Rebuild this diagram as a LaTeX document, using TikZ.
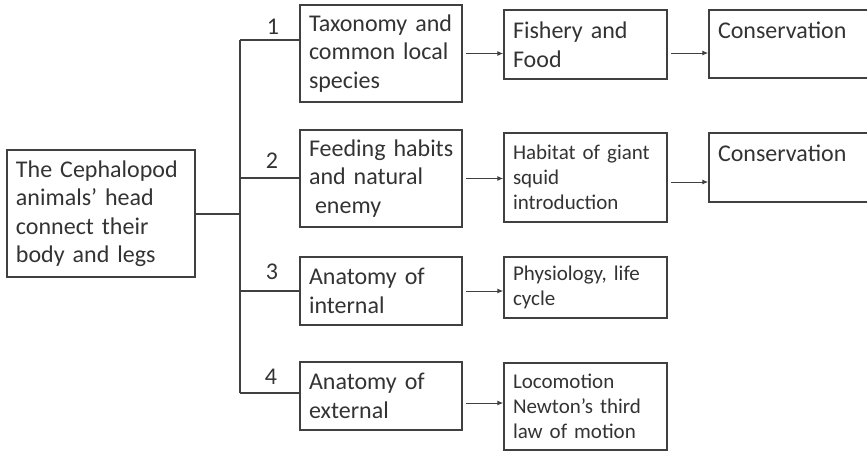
\documentclass[tikz,border=0pt]{standalone}
\usepackage{fontspec}
\setmainfont{Carlito}
\usetikzlibrary{arrows.meta,calc}
\definecolor{ink}{HTML}{333333}
\definecolor{rule}{HTML}{404040}
\newcommand{\tightspace}{\fontdimen2\font=0.23em\fontdimen3\font=0pt\fontdimen4\font=0pt}
\begin{document}
\begin{tikzpicture}[x=1pt,y=-1pt,
  box/.style={draw=rule,line width=1.5pt,rectangle,anchor=center,
    inner xsep=9pt,inner ysep=0pt,align=left,text=ink,
    font=\fontsize{24}{28.5}\selectfont\tightspace},
  smallbox/.style={box,font=\fontsize{21}{25}\selectfont\tightspace},
  num/.style={text=ink,font=\fontsize{24}{28}\selectfont,inner sep=0pt},
  trunk/.style={draw=rule,line width=2pt},
  link/.style={draw=rule,line width=1pt,shorten <=3pt,
    -{Latex[length=6pt,width=5pt]}}]
  \useasboundingbox (0,0) rectangle (867,451);
  \clip (0,0) rectangle (867,451);

  % root topic
  \node[box,text width=170pt,minimum width=188pt,minimum height=127pt]
    (root) at (101,213.5) {The Cephalopod\\animals’ head\\connect their\\body and legs};

  % first-level topics
  \node[box,text width=144pt,minimum width=162pt,minimum height=97pt]
    (b1) at (381,53.5) {Taxonomy and\\common local\\species};
  \node[box,text width=144pt,minimum width=162pt,minimum height=97pt]
    (b2) at (381,178.5) {\mbox{Feeding habits}\\and natural\\\hspace*{6pt}enemy};
  \node[box,text width=144pt,minimum width=162pt,minimum height=68pt]
    (b3) at (381,291) {Anatomy of\\internal};
  \node[box,text width=144pt,minimum width=162pt,minimum height=68pt]
    (b4) at (381,396) {Anatomy of\\external};

  % second-level topics
  \node[box,text width=145pt,minimum width=163pt,minimum height=69pt]
    (c1) at (585.5,44.5) {Fishery and\\Food};
  \node[smallbox,text width=145pt,minimum width=163pt,minimum height=89pt]
    (c2) at (585.5,177.5) {Habitat of giant\\squid\\introduction};
  \node[smallbox,text width=145pt,minimum width=163pt,minimum height=61pt]
    (c3) at (585.5,287.5) {Physiology, life\\cycle};
  \node[smallbox,text width=145pt,minimum width=163pt,minimum height=87pt]
    (c4) at (585.5,406.5) {Locomotion\\Newton's third\\law of motion};

  % third-level topics (running off the right edge)
  \node[box,text width=162pt,minimum width=180pt,minimum height=68pt]
    (d1) at (799,44) {Conservation\\\mbox{}};
  \node[box,text width=162pt,minimum width=180pt,minimum height=69pt]
    (d2) at (799,167.5) {Conservation\\\mbox{}};

  % branch numbers
  \node[num] (n1) at (273,27) {1};
  \node[num] (n2) at (272,161) {2};
  \node[num] (n3) at (272,272) {3};
  \node[num] (n4) at (271,377) {4};

  % bracket joining the root to the four topics
  \coordinate (j1) at (240,40);
  \coordinate (j2) at (240,178);
  \coordinate (j3) at (240,291);
  \coordinate (j4) at (240,393);
  \draw[trunk] (j1) -- (j4);
  \draw[trunk] (root.east) -- (root.east -| j1);
  \draw[trunk] (j1) -- (j1 -| b1.west);
  \draw[trunk] (j2) -- (j2 -| b2.west);
  \draw[trunk] (j3) -- (j3 -| b3.west);
  \draw[trunk] (j4) -- (j4 -| b4.west);

  % arrows between levels
  \draw[link] (b1.east) -- (b1.east -| c1.west);
  \draw[link] (b2.east) -- (b2.east -| c2.west);
  \draw[link] (b3.east) -- (b3.east -| c3.west);
  \draw[link] ([yshift=-7pt]b4.east) -- ([yshift=-7pt]b4.east -| c4.west);
  \draw[link] ([yshift=-8.5pt]c1.east) -- ([yshift=-8.5pt]c1.east -| d1.west);
  \draw[link] ([yshift=-4.5pt]c2.east) -- ([yshift=-4.5pt]c2.east -| d2.west);
\end{tikzpicture}
\end{document}
